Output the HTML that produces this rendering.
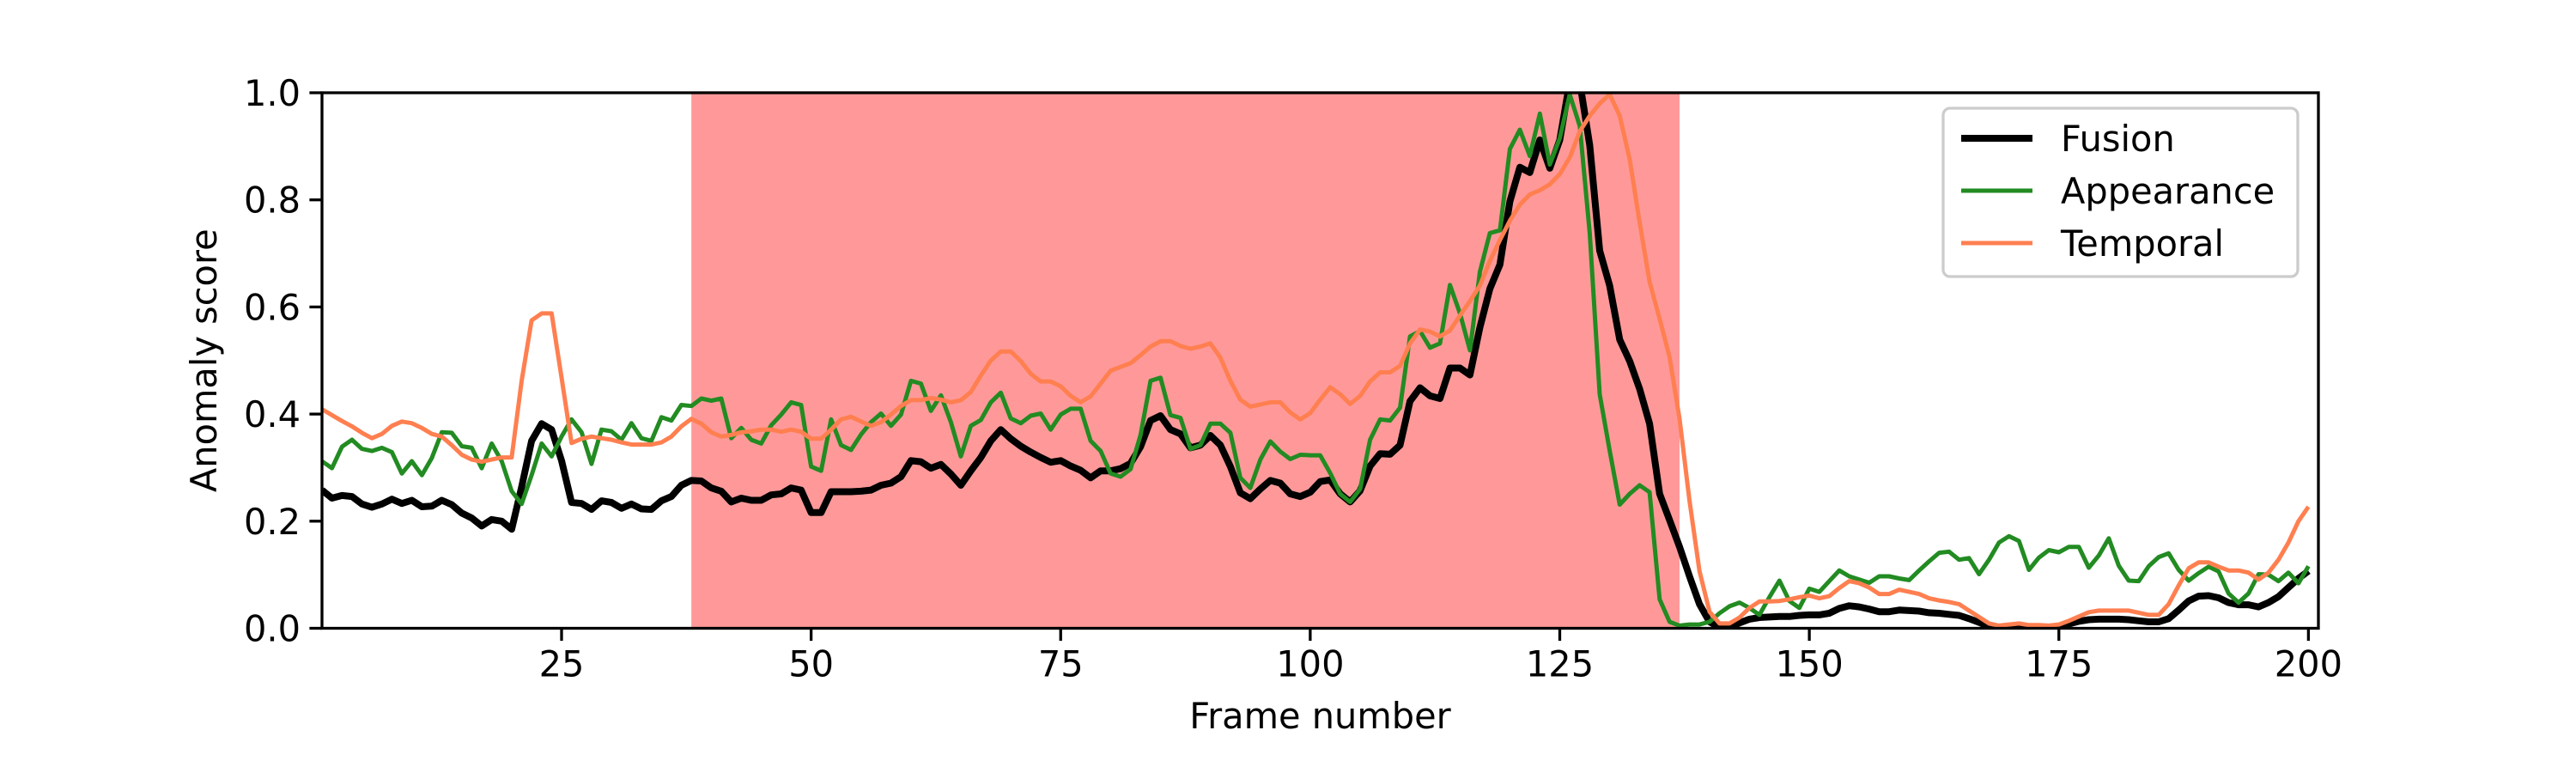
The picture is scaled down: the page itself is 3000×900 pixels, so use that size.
<!DOCTYPE html>
<html><head><meta charset="utf-8"><style>
html,body{margin:0;padding:0;background:#fff;}
svg{display:block;font-family:"DejaVu Sans","Liberation Sans",sans-serif;}
</style></head><body>
<svg id="chart" width="3000" height="900" viewBox="0 0 3000 900" xmlns="http://www.w3.org/2000/svg">
<defs><clipPath id="plotclip"><rect x="375" y="108" width="2325" height="623.5"/></clipPath></defs>
<rect x="0" y="0" width="3000" height="900" fill="#fff"/>
<g id="shade"></g>
<g id="series" clip-path="url(#plotclip)"></g>
<g id="axes"></g>
<g id="legend"></g>
</svg>
<script>
const frames = Array.from({length:200},(_,i)=>i+1);
const anomalyStart = 38, anomalyEnd = 137;
const xTicks = [25,50,75,100,125,150,175,200];
const yTicks = [0,0.2,0.4,0.6,0.8,1.0];
const yTickLabels = ["0.0","0.2","0.4","0.6","0.8","1.0"];
const fusion = [
.258,.243,.248,.246,.232,.226,.232,.241,.233,.239,.227,.228,.239,.231,.215,.206,.191,.203,.200,.185,
.264,.350,.382,.371,.313,.235,.233,.222,.238,.235,.224,.232,.223,.222,.238,.246,.267,.276,.275,.262,
.256,.236,.243,.239,.239,.249,.251,.262,.258,.216,.216,.255,.255,.255,.256,.258,.267,.271,.283,.313,
.311,.299,.306,.288,.267,.294,.319,.350,.371,.354,.340,.329,.319,.310,.313,.303,.295,.281,.294,.294,
.298,.308,.339,.388,.397,.371,.363,.337,.342,.360,.342,.302,.253,.242,.260,.276,.271,.251,.246,.254,
.274,.277,.251,.236,.257,.303,.326,.325,.342,.424,.449,.434,.429,.486,.486,.473,.562,.634,.679,.797,
.861,.851,.912,.859,.912,1.02,1.02,.902,.705,.640,.539,.499,.447,.382,.251,.202,.152,.097,.045,.012,
.002,.002,.010,.017,.020,.021,.022,.022,.024,.025,.025,.028,.037,.042,.040,.036,.031,.031,.034,.033,
.032,.029,.028,.026,.024,.018,.011,.003,.001,.002,.003,.003,.003,.002,.002,.008,.013,.016,.017,.017,
.017,.016,.014,.012,.012,.018,.034,.051,.060,.061,.057,.048,.044,.044,.040,.048,.059,.076,.093,.107];
const appearance = [
.312,.299,.339,.352,.335,.331,.337,.329,.289,.312,.286,.318,.366,.365,.340,.337,.299,.345,.312,.256,
.232,.286,.345,.321,.358,.390,.366,.307,.371,.368,.352,.383,.355,.350,.394,.388,.417,.415,.429,.425,
.429,.355,.374,.352,.345,.379,.399,.422,.417,.302,.294,.390,.342,.333,.362,.385,.401,.378,.399,.462,
.457,.406,.435,.385,.321,.378,.389,.422,.440,.392,.383,.397,.401,.371,.399,.410,.410,.350,.331,.289,
.283,.297,.361,.462,.468,.398,.393,.335,.342,.382,.382,.365,.281,.262,.315,.349,.330,.316,.324,.323,
.323,.290,.251,.236,.260,.352,.390,.388,.412,.545,.555,.524,.532,.641,.588,.519,.666,.738,.743,.895,
.931,.882,.961,.866,.915,.997,.938,.738,.437,.332,.231,.251,.267,.254,.054,.012,.005,.007,.007,.012,
.028,.041,.048,.038,.025,.058,.089,.051,.038,.074,.068,.088,.108,.097,.091,.085,.097,.097,.093,.090,
.108,.125,.141,.143,.128,.131,.101,.128,.160,.172,.163,.109,.132,.146,.142,.152,.152,.113,.136,.168,
.117,.089,.088,.116,.133,.140,.109,.089,.103,.115,.106,.065,.048,.065,.101,.100,.088,.104,.084,.116];
const temporal = [
.409,.398,.387,.377,.365,.355,.363,.378,.386,.383,.374,.363,.358,.342,.324,.315,.311,.315,.319,.319,
.462,.575,.588,.588,.468,.346,.354,.358,.355,.352,.347,.343,.343,.343,.347,.358,.377,.391,.382,.366,
.358,.361,.366,.368,.371,.371,.367,.371,.367,.354,.354,.371,.390,.395,.386,.378,.385,.399,.415,.426,
.426,.430,.427,.422,.426,.441,.472,.500,.517,.517,.499,.475,.461,.461,.452,.434,.422,.433,.457,.481,
.488,.495,.510,.526,.536,.536,.527,.522,.526,.532,.505,.462,.427,.414,.418,.422,.422,.403,.390,.402,
.427,.450,.437,.419,.434,.461,.478,.478,.490,.532,.558,.554,.545,.556,.584,.611,.640,.686,.725,.761,
.791,.810,.818,.829,.848,.879,.928,.957,.980,.997,.957,.876,.758,.647,.578,.506,.391,.238,.107,.031,
.009,.009,.020,.038,.050,.050,.051,.054,.058,.061,.056,.060,.075,.088,.084,.076,.064,.064,.072,.068,
.064,.056,.052,.049,.045,.033,.021,.009,.005,.007,.009,.006,.006,.005,.007,.014,.022,.030,.033,.033,
.033,.033,.029,.025,.025,.045,.080,.112,.123,.123,.115,.108,.108,.104,.091,.104,.128,.160,.200,.227];

const X0=375, X1=2700, Y0=731.5, Y1=108;
const xMin=1, xMax=201;
function xs(v){return X0+(v-xMin)/(xMax-xMin)*(X1-X0);}
function ys(v){return Y0-(v-0)/(1-0)*(Y0-Y1);}
const NS="http://www.w3.org/2000/svg";
function mk(tag,attrs,parent){const e=document.createElementNS(NS,tag);for(const k in attrs)e.setAttribute(k,attrs[k]);parent.appendChild(e);return e;}

// shaded anomaly region
const shade=document.getElementById('shade');
const sr=mk('rect',{x:xs(anomalyStart),y:Y1,width:xs(anomalyEnd)-xs(anomalyStart),height:Y0-Y1,fill:'#ff9999'},shade);



// series
const sg=document.getElementById('series');
function line(data,color,w,name){
  let d=data.map((v,i)=>(i?'L':'M')+xs(frames[i]).toFixed(1)+','+ys(v).toFixed(1)).join('');
  const p=mk('path',{d:d,fill:'none',stroke:color,'stroke-width':w,'stroke-linejoin':'round','stroke-linecap':'butt'},sg);
  
  
}
line(fusion,'#000000',8,'fusion-line');
line(appearance,'#228b22',5,'appearance-line');
line(temporal,'#ff7f50',5,'temporal-line');

// axes
const ag=document.getElementById('axes');
const frame=mk('rect',{x:X0,y:Y1,width:X1-X0,height:Y0-Y1,fill:'none',stroke:'#000','stroke-width':3.3},ag);


xTicks.forEach(t=>{
  const x=xs(t);
  const tk=mk('line',{x1:x,x2:x,y1:Y0,y2:Y0+14.6,stroke:'#000','stroke-width':3.3},ag);
  
  
  const tl=mk('text',{x:x,y:Y0+56,'font-size':41.5,'text-anchor':'middle',fill:'#000'},ag);
  tl.textContent=String(t);
  
  
});
yTicks.forEach((t,i)=>{
  const y=ys(t);
  const tk=mk('line',{x1:X0-14.6,x2:X0,y1:y,y2:y,stroke:'#000','stroke-width':3.3},ag);
  
  
  const tl=mk('text',{x:X0-25,y:y+15,'font-size':41.5,'text-anchor':'end',fill:'#000'},ag);
  tl.textContent=yTickLabels[i];
  
  
});
const xl=mk('text',{x:(X0+X1)/2,y:848,'font-size':41.5,'text-anchor':'middle',fill:'#000'},ag);
xl.textContent='Frame number';


const yl=mk('text',{x:0,y:0,'font-size':41.5,'text-anchor':'middle',fill:'#000',transform:'translate(252,'+((Y0+Y1)/2)+') rotate(-90)'},ag);
yl.textContent='Anomaly score';



// legend
const lg=document.getElementById('legend');
const lb=mk('rect',{x:2263,y:126,width:413,height:196,rx:8,fill:'#fff','fill-opacity':0.8,stroke:'#cccccc','stroke-width':3.3},lg);


const entries=[['Fusion','#000',8,161],['Appearance','#228b22',5,222],['Temporal','#ff7f50',5,283]];
entries.forEach(e=>{
  const g=mk('g',{},lg);
  
  
  mk('line',{x1:2284,x2:2367,y1:e[3],y2:e[3],stroke:e[1],'stroke-width':e[2]},g);
  const t=mk('text',{x:2400,y:e[3]+15,'font-size':41.5,fill:'#000'},g);
  t.textContent=e[0];
});
</script>
</body></html>
